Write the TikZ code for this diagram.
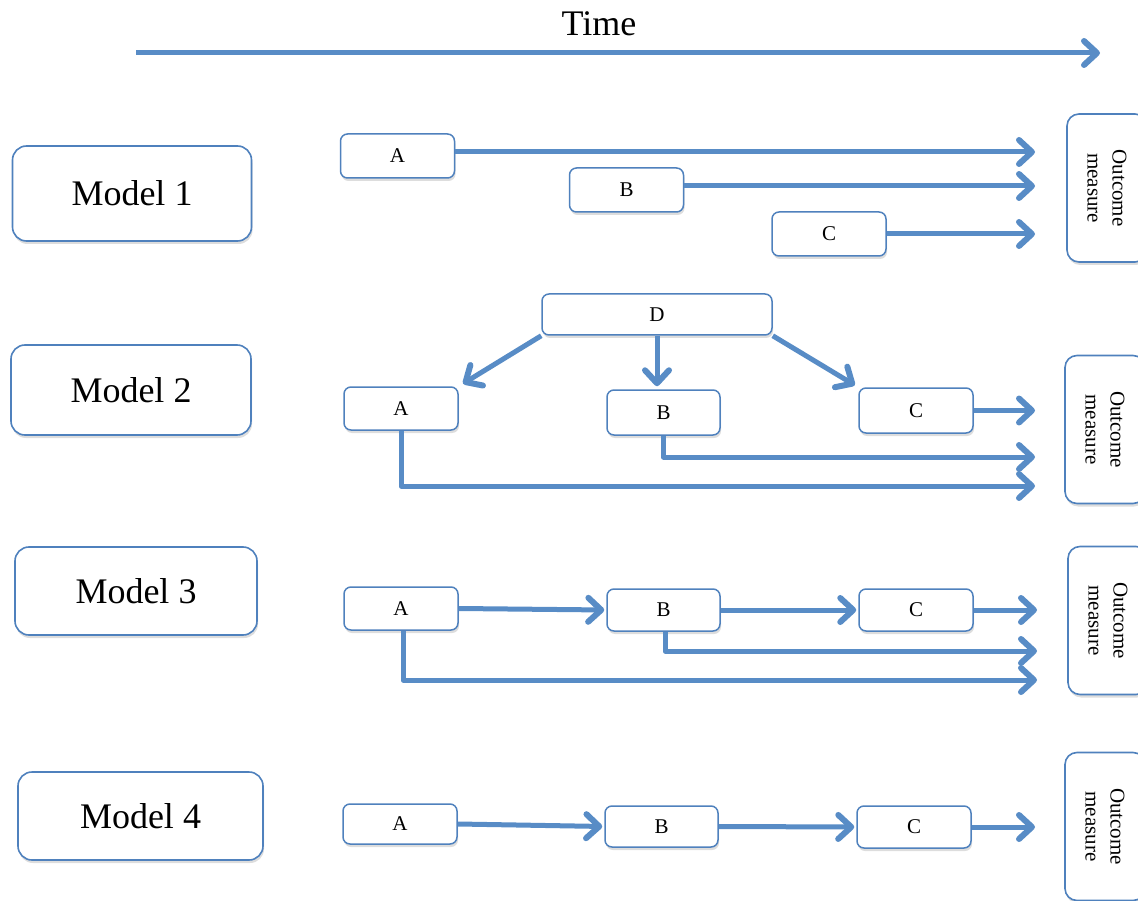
\documentclass[tikz,border=0pt]{standalone}
\usepackage{fontspec}
\setmainfont{Liberation Serif}
\usetikzlibrary{arrows.meta,shadows}
\definecolor{edgeblue}{RGB}{79,129,189}
\definecolor{flowblue}{RGB}{88,140,198}
\tikzset{
  soft/.style={drop shadow={shadow xshift=1pt,shadow yshift=-3pt,opacity=0.22,fill=black!60}},
  modelbox/.style={draw=edgeblue,line width=1.6pt,fill=white,rounded corners=14pt,soft,
    inner sep=0pt,font=\fontsize{36}{40}\selectfont},
  varbox/.style={draw=edgeblue,line width=1.5pt,fill=white,rounded corners=7pt,soft,
    inner sep=0pt,minimum width=114pt,minimum height=43pt,font=\fontsize{21}{24}\selectfont},
  outbox/.style={draw=edgeblue,line width=1.6pt,fill=white,rounded corners=12pt,soft,
    inner sep=0pt,minimum width=80pt,minimum height=148pt},
  outlabel/.style={rotate=-90,align=center,font=\fontsize{21}{25}\selectfont},
  arr/.style={draw=flowblue,line width=5pt,line join=round,
    -{Straight Barb[length=13pt,width=24pt,line width=6pt,round]}},
}
\begin{document}
\begin{tikzpicture}[x=1pt,y=-1pt]
\useasboundingbox (0,0) rectangle (1138,901);

% time axis
\node[font=\fontsize{36}{40}\selectfont] (time) at (599,24) {Time};
\coordinate (t0) at (136,53);
\coordinate (t1) at (1100,53);
\draw[arr] (t0) -- (t1);

% model labels
\node[modelbox,minimum width=239pt,minimum height=95pt] (m1) at (132,193.5) {Model 1};
\node[modelbox,minimum width=240pt,minimum height=90pt] (m2) at (131,390) {Model 2};
\node[modelbox,minimum width=242pt,minimum height=88pt] (m3) at (136,591) {Model 3};
\node[modelbox,minimum width=245pt,minimum height=88pt] (m4) at (140.5,816) {Model 4};

% outcome boxes
\node[outbox] (o1) at (1107,188) {};
\node[outlabel] at (o1) {Outcome\\measure};
\node[outbox] (o2) at (1105,429.5) {};
\node[outlabel] at (o2) {Outcome\\measure};
\node[outbox] (o3) at (1108,620.5) {};
\node[outlabel] at (o3) {Outcome\\measure};
\node[outbox] (o4) at (1105,826.5) {};
\node[outlabel] at (o4) {Outcome\\measure};

% ---- Model 1: independent exposures
\node[varbox,minimum height=44pt] (m1a) at (397.5,156) {A};
\node[varbox,minimum height=44pt] (m1b) at (626.5,190) {B};
\node[varbox,minimum height=44pt] (m1c) at (829,234) {C};
\coordinate (e1) at (1035,0);
\draw[arr] ([yshift=4pt]m1a.east) -- ([yshift=4pt]m1a.east -| e1);
\draw[arr] ([yshift=4pt]m1b.east) -- ([yshift=4pt]m1b.east -| e1);
\draw[arr] (m1c.east) -- (m1c.east -| e1);

% ---- Model 2: common cause D
\node[varbox,minimum width=230pt,minimum height=41pt] (m2d) at (657,314.5) {D};
\node[varbox] (m2a) at (401,408.5) {A};
\node[varbox,minimum width=113pt,minimum height=45pt] (m2b) at (663.5,412.5) {B};
\node[varbox,minimum height=45pt] (m2c) at (916,410.5) {C};
\coordinate (e2) at (1035,0);
\draw[arr,shorten >=5pt] (m2d.south west) -- (m2a.north east);
\draw[arr,shorten >=3pt] (m2d.south) -- (m2d.south |- m2b.north);
\draw[arr,shorten >=4pt] (m2d.south east) -- (m2c.north west);
\draw[arr] (m2c.east) -- (m2c.east -| e2);
\coordinate (e2b) at (1035,457);
\coordinate (e2a) at (1035,486);
\draw[arr] (m2b.south) |- (e2b);
\draw[arr] (m2a.south) |- (e2a);

% ---- Model 3: chain with direct effects
\node[varbox] (m3a) at (401,608.5) {A};
\node[varbox,minimum width=113pt,minimum height=42pt] (m3b) at (663.5,610) {B};
\node[varbox,minimum height=42pt] (m3c) at (916,610) {C};
\coordinate (e3) at (1037,0);
\draw[arr,shorten >=2pt] (m3a.east) -- (m3b.west);
\draw[arr,shorten >=2pt] (m3b.east) -- (m3c.west);
\draw[arr] (m3c.east) -- (m3c.east -| e3);
\coordinate (e3b) at (1037,651);
\coordinate (e3a) at (1037,680);
\draw[arr] ([xshift=1.5pt]m3b.south) |- (e3b);
\draw[arr] ([xshift=2pt]m3a.south) |- (e3a);

% ---- Model 4: simple chain
\node[varbox,minimum height=40pt] (m4a) at (400,824) {A};
\node[varbox,minimum width=113pt,minimum height=41pt] (m4b) at (661.5,826.5) {B};
\node[varbox,minimum height=42pt] (m4c) at (914,827) {C};
\coordinate (e4) at (1035,0);
\draw[arr,shorten >=2pt] (m4a.east) -- (m4b.west);
\draw[arr,shorten >=2pt] (m4b.east) -- (m4c.west);
\draw[arr] (m4c.east) -- (m4c.east -| e4);
\end{tikzpicture}
\end{document}
